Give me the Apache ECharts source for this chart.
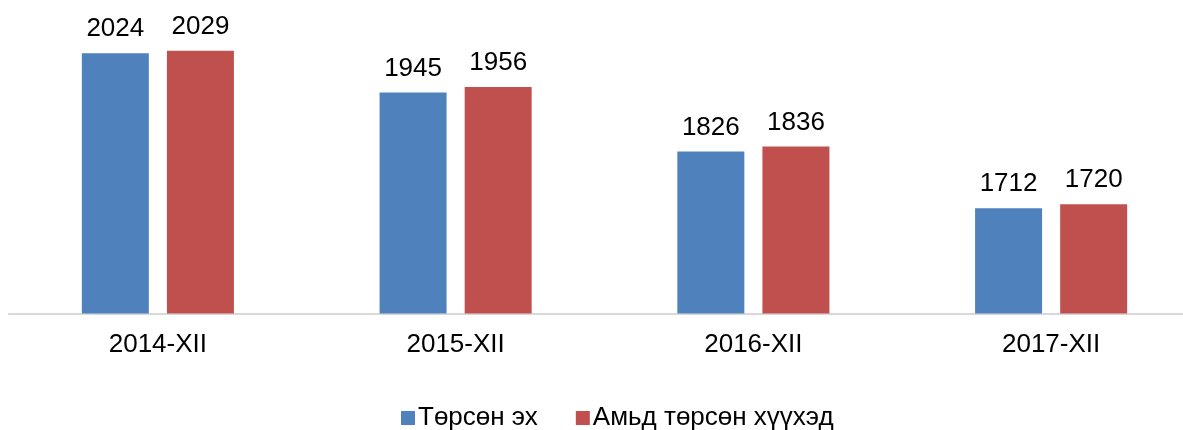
<!DOCTYPE html>
<html><head><meta charset="utf-8">
<script src="https://cdn.jsdelivr.net/npm/echarts@6/dist/echarts.min.js"></script>
<style>html,body{margin:0;padding:0;background:#fff}#c{width:1183px;height:430px}</style>
</head><body><div id="c"></div>
<script>
const categories = ['2014-XII', '2015-XII', '2016-XII', '2017-XII'];
const seriesNames = ['Төрсөн эх', 'Амьд төрсөн хүүхэд'];
const mothers = [2024, 1945, 1826, 1712];
const liveBirths = [2029, 1956, 1836, 1720];

const font = '"Liberation Sans", Arial, sans-serif';
const chart = echarts.init(document.getElementById('c'));
chart.setOption({
  animation: false,
  textStyle: { fontFamily: font },
  legend: {
    left: 396, top: 400,
    itemWidth: 14, itemHeight: 14, itemGap: 38,
    icon: 'rect',
    textStyle: { fontSize: 26, color: '#000', fontFamily: font, padding: [0, 0, 0, -2] },
    data: seriesNames
  },
  grid: { left: 9, top: 15.5, width: 1191, height: 298, containLabel: false, outerBoundsMode: 'none' },
  xAxis: {
    type: 'category', data: categories,
    axisLine: { lineStyle: { color: '#D9D9D9', width: 2 } },
    axisTick: { show: false },
    axisLabel: { fontSize: 26, color: '#000', margin: 18, fontFamily: font }
  },
  yAxis: {
    type: 'value', min: 1500, max: 2100, interval: 100,
    show: false, splitLine: { show: false }
  },
  series: [
    { name: seriesNames[0], type: 'bar', data: mothers, barWidth: 67, barGap: '27%',
      itemStyle: { color: '#4F81BD' },
      label: { show: true, position: 'top', distance: 11, fontSize: 26, color: '#000', fontFamily: font } },
    { name: seriesNames[1], type: 'bar', data: liveBirths, barWidth: 67,
      itemStyle: { color: '#C0504D' },
      label: { show: true, position: 'top', distance: 11, fontSize: 26, color: '#000', fontFamily: font } }
  ]
});
</script></body></html>
